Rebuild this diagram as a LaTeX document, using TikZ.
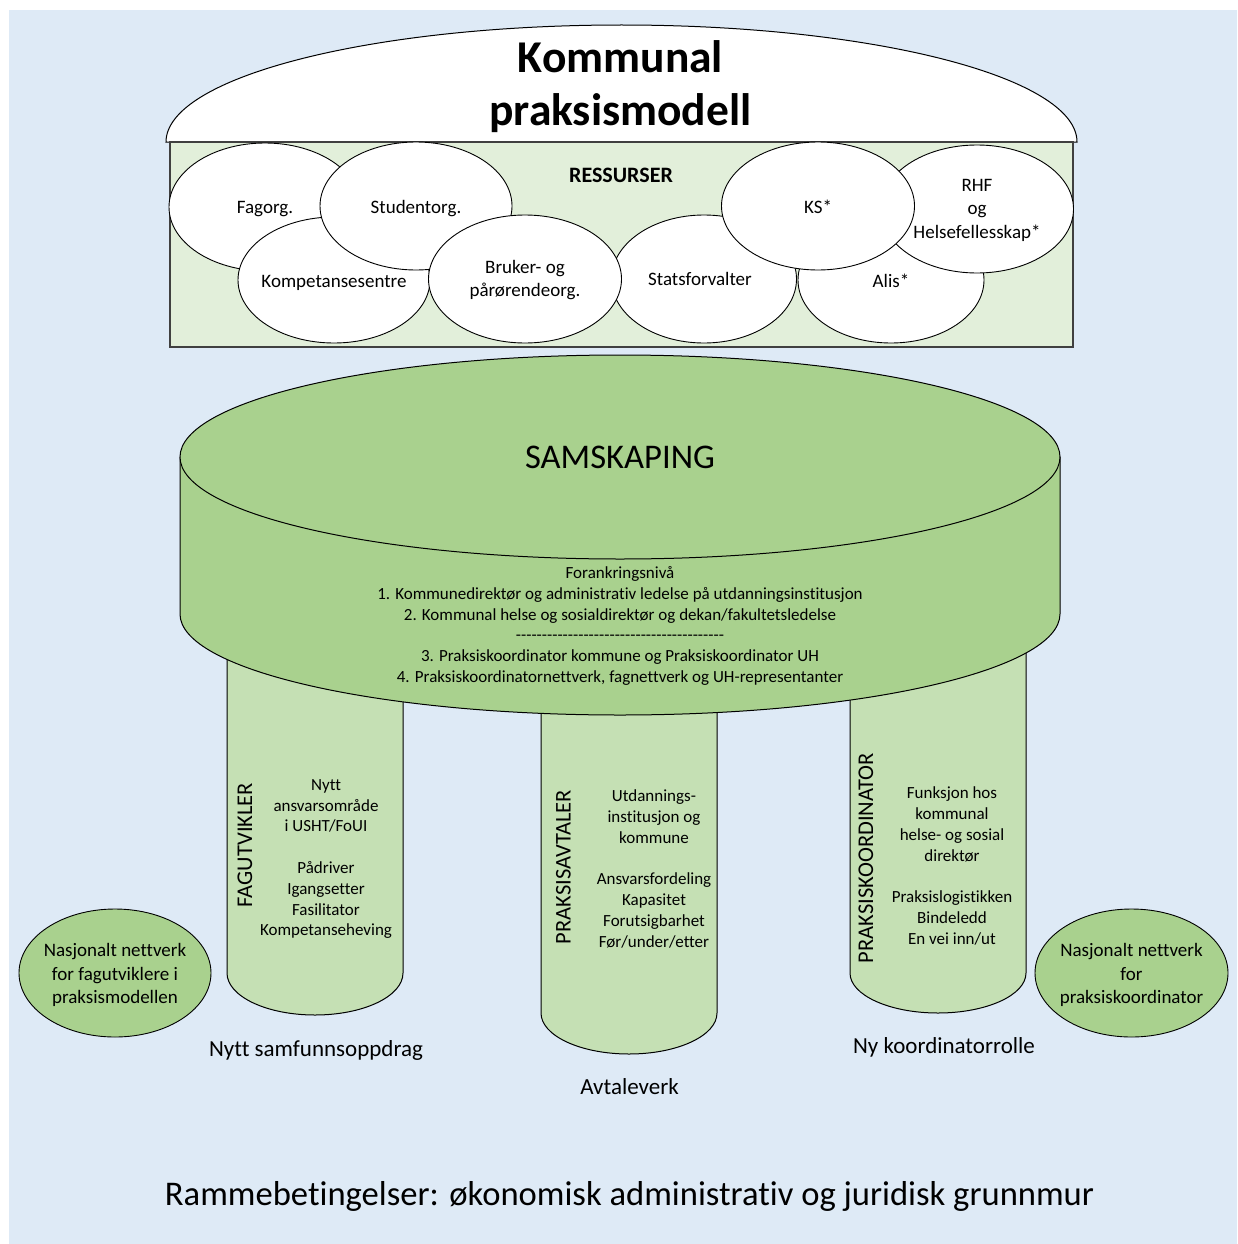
\documentclass[tikz,border=0pt]{standalone}
\usepackage{fontspec}
\setmainfont{Carlito}[Ligatures=CommonOff]
\usetikzlibrary{shapes.geometric}
\definecolor{bgblue}{HTML}{DEEAF6}
\definecolor{resgreen}{HTML}{E2EFDA}
\definecolor{cylgreen}{HTML}{A9D18E}
\definecolor{pilgreen}{HTML}{C5E0B4}
\def\hyx{-\kern0pt-\kern0pt-\kern0pt-\kern0pt-\kern0pt-\kern0pt-\kern0pt-\kern0pt-\kern0pt-\kern0pt}
\tikzset{
  outl/.style={draw=black, line width=1pt},
  resc/.style={ellipse, draw=black, line width=0.9pt, fill=white, inner sep=0pt},
  natc/.style={ellipse, draw=black, line width=0.9pt, fill=cylgreen, inner sep=0pt},
  tnineteen/.style={font=\fontsize{19}{23.5}\selectfont, align=center, inner sep=0pt},
  tseventeen/.style={font=\fontsize{17}{20.8}\selectfont, align=center, inner sep=0pt},
  vlabel/.style={font=\fontsize{22.5}{27}\selectfont, rotate=90, inner sep=0pt},
  tbig/.style={font=\fontsize{23}{28}\selectfont, inner sep=0pt},
  thuge/.style={font=\fontsize{34.6}{42}\selectfont, inner sep=0pt},
  ttitle/.style={font=\fontsize{45.5}{53}\selectfont\bfseries, inner sep=0pt, anchor=base}
}
\begin{document}
\begin{tikzpicture}[x=1pt,y=1pt]
\useasboundingbox (0,0) rectangle (1237,-1244);
% background
\fill[bgblue] (9,-10) rectangle (1237,-1244);

% dome
\path[outl, fill=white] (166,-142) arc[start angle=180, end angle=0, x radius=455.5, y radius=117] -- cycle;
\node[ttitle] (t1) at (620.5,-73) {Kommunal};
\node[ttitle] (t2) at (620.5,-126) {praksismodell};

% resources box
\path[draw=black!75, line width=1.3pt, fill=resgreen] (170,-142) rectangle (1073,-347);
\node[font=\fontsize{22}{26}\selectfont\bfseries, inner sep=0pt] (res) at (621,-175) {RESSURSER};

% circles (in stacking order)
\node[resc, minimum width=192pt, minimum height=128pt] (fag) at (265,-207) {};
\node[resc, minimum width=192pt, minimum height=126pt] (komp) at (334,-280) {};
\node[resc, minimum width=192pt, minimum height=128pt] (stud) at (416,-206) {};
\node[resc, minimum width=185pt, minimum height=128pt] (stats) at (704,-279) {};
\node[resc, minimum width=193pt, minimum height=128pt] (bruk) at (525,-279) {};
\node[resc, minimum width=186pt, minimum height=126pt] (alis) at (891,-280) {};
\node[resc, minimum width=193pt, minimum height=128pt] (rhf) at (977,-209) {};
\node[resc, minimum width=193pt, minimum height=128pt] (ks) at (818,-206) {};

\node[tnineteen, yshift=-2.5pt] (fagt) at (fag) {Fagorg.};
\node[tnineteen, yshift=-2.5pt] (kompt) at (komp) {Kompetansesentre};
\node[tnineteen, yshift=-2.5pt] (studt) at (stud) {Studentorg.};
\node[tnineteen, xshift=-4pt] (statst) at (stats.center) {Statsforvalter};
\node[tnineteen, yshift=-1pt] (brukt) at (bruk) {Bruker- og\\pårørendeorg.};
\node[tnineteen, yshift=-1pt] (alist) at (alis) {Alis*};
\node[tnineteen, yshift=-1pt] (rhft) at (rhf) {RHF\\og\\Helsefellesskap*};
\node[tnineteen, yshift=-1pt] (kst) at (ks) {KS*};

% pillars
\path[outl, fill=pilgreen] (227,-600) -- (227,-973) arc[start angle=180, end angle=360, x radius=88, y radius=42] -- (403,-600) -- cycle;
\path[outl, fill=pilgreen] (541,-600) -- (541,-1013) arc[start angle=180, end angle=360, x radius=88, y radius=41] -- (717,-600) -- cycle;
\path[outl, fill=pilgreen] (850,-600) -- (850,-973) arc[start angle=180, end angle=360, x radius=88, y radius=40] -- (1026,-600) -- cycle;

% cylinder
\path[outl, fill=cylgreen] (180,-457) -- (180,-614) arc[start angle=180, end angle=360, x radius=440, y radius=101] -- (1060,-457) -- cycle;
\node[ellipse, outl, fill=cylgreen, minimum width=880pt, minimum height=204pt, inner sep=0pt] (top) at (620,-457) {};
\node[thuge] (samsk) at (top) {SAMSKAPING};
\node[tseventeen] (foran) at (620,-626) {Forankringsnivå\\
1. Kommunedirektør og administrativ ledelse på utdanningsinstitusjon\\
2. Kommunal helse og sosialdirektør og dekan/fakultetsledelse\\
\hyx\hyx\hyx\hyx\\
3. Praksiskoordinator kommune og Praksiskoordinator UH\\
4. Praksiskoordinatornettverk, fagnettverk og UH-representanter};

% pillar texts
\node[vlabel] (fagv) at (245,-845) {FAGUTVIKLER};
\node[tseventeen] (fagtx) at (326,-859) {Nytt\\ansvarsområde\\i USHT/FoUI\\[20.8pt]Pådriver\\Igangsetter\\Fasilitator\\Kompetanseheving};
\node[vlabel] (avtv) at (563.5,-867) {PRAKSISAVTALER};
\node[tseventeen] (avttx) at (654,-869) {Utdannings-\\institusjon og\\kommune\\[20.8pt]Ansvarsfordeling\\Kapasitet\\Forutsigbarhet\\Før/under/etter};
\node[vlabel] (koov) at (866,-858) {PRAKSISKOORDINATOR};
\node[tseventeen] (kootx) at (952,-866) {Funksjon hos\\kommunal\\helse- og sosial\\direktør\\[20.8pt]Praksislogistikken\\Bindeledd\\En vei inn/ut};

% national networks
\node[natc, minimum width=192pt, minimum height=128pt] (natl) at (115,-973) {};
\node[tnineteen, yshift=-2pt] (natlt) at (natl) {Nasjonalt nettverk\\for fagutviklere i\\praksismodellen};
\node[natc, minimum width=193pt, minimum height=128pt] (natr) at (1131.5,-973) {};
\node[tnineteen, yshift=-2pt] (natrt) at (natr) {Nasjonalt nettverk\\for\\praksiskoordinator};

% bottom labels
\node[tbig] (lab1) at (316,-1050) {Nytt samfunnsoppdrag};
\node[tbig] (lab2) at (629.5,-1087) {Avtaleverk};
\node[tbig] (lab3) at (944,-1047) {Ny koordinatorrolle};
\node[thuge] (ramme) at (629.5,-1196) {Rammebetingelser: økonomisk administrativ og juridisk grunnmur};
\end{tikzpicture}
\end{document}
